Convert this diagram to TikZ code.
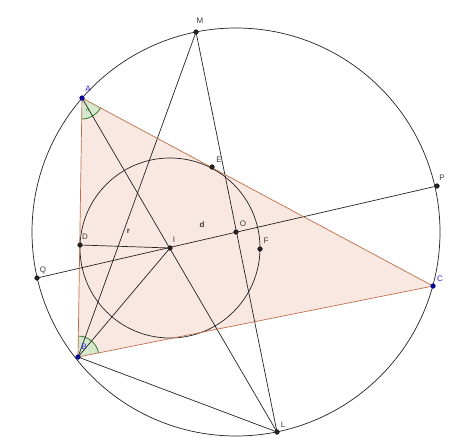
\documentclass[tikz,border=0pt]{standalone}
\usepackage{fontspec}
\setmainfont{Liberation Sans}
\definecolor{trifill}{RGB}{249,232,226}
\definecolor{triedge}{RGB}{190,110,72}
\definecolor{angfill}{RGB}{214,232,204}
\definecolor{angedge}{RGB}{30,110,30}
\definecolor{ptblue}{RGB}{10,10,150}
\definecolor{lblblue}{RGB}{40,40,210}
\definecolor{ptgray}{RGB}{35,35,35}
\definecolor{lblgray}{RGB}{60,60,60}
\begin{document}
\begin{tikzpicture}[x=1pt,y=-1pt,
  ln/.style={draw=ptgray,line width=0.7pt},
  gpt/.style={circle,fill=ptgray,inner sep=0pt,minimum size=5pt},
  bpt/.style={circle,fill=ptblue,inner sep=0pt,minimum size=5pt},
  glbl/.style={text=lblgray,font=\fontsize{8}{9}\selectfont,inner sep=0pt},
  blbl/.style={text=lblblue,font=\fontsize{8}{9}\selectfont,inner sep=0pt},
  albl/.style={text=angedge,font=\fontsize{6}{7}\selectfont,inner sep=0pt}]
\useasboundingbox (0,0) rectangle (474,445);
% points
\coordinate (Oc) at (236,232);
\coordinate (Ic) at (170,248);
\coordinate (Ac) at (82,98);
\coordinate (Bc) at (78,357);
\coordinate (Cc) at (433,286);
% triangle fill
\fill[trifill] (Ac) -- (Bc) -- (Cc) -- cycle;
% angle marks
\fill[angfill] (Ac) -- ++(28.2:21) arc[start angle=28.2,end angle=90.9,radius=21] -- cycle;
\draw[angedge,line width=0.7pt] (Ac) ++(28.2:21) arc[start angle=28.2,end angle=90.9,radius=21];
\fill[angfill] (Bc) -- ++(-89.1:21) arc[start angle=-89.1,end angle=-11.3,radius=21] -- cycle;
\draw[angedge,line width=0.7pt] (Bc) ++(-89.1:21) arc[start angle=-89.1,end angle=-11.3,radius=21];
% circles
\draw[ln] (Oc) circle[radius=204];
\draw[ln] (Ic) circle[radius=90];
% named nodes
\node[bpt] (A) at (Ac) {};
\node[bpt] (B) at (Bc) {};
\node[bpt] (C) at (Cc) {};
\node[gpt] (O) at (Oc) {};
\node[gpt] (I) at (Ic) {};
\node[gpt] (M) at (196,32) {};
\node[gpt] (L) at (277,432) {};
\node[gpt] (P) at (437,186) {};
\node[gpt] (Q) at (37,278) {};
\node[gpt] (D) at (80,245) {};
\node[gpt] (E) at (212,167) {};
\node[gpt] (F) at (260,249) {};
% lines
\draw[ln] (A.center) -- (L.center);
\draw[ln] (M.center) -- (L.center);
\draw[ln] (B.center) -- (M.center);
\draw[ln] (B.center) -- (I.center);
\draw[ln] (B.center) -- (L.center);
\draw[ln] (Q.center) -- (P.center);
\draw[ln] (D.center) -- (I.center);
% triangle edge
\draw[triedge,line width=0.7pt] (Ac) -- (Bc) -- (Cc) -- cycle;
% redraw points on top
\node[bpt] at (Ac) {};
\node[bpt] at (Bc) {};
\node[bpt] at (Cc) {};
\foreach \p in {O,I,M,L,P,Q,D,E,F} \node[gpt] at (\p) {};
% labels
\node[blbl] (lA) at (88,89) {A};
\node[blbl] (lB) at (84,347) {B};
\node[blbl] (lC) at (440,279) {C};
\node[albl] (la) at (88,110) {$\alpha$};
\node[glbl] (lM) at (200,21) {M};
\node[glbl] (lE) at (219,160) {E};
\node[glbl] (lO) at (243,224) {O};
\node[glbl] (lF) at (266,241) {F};
\node[glbl] (lD) at (85,237) {D};
\node[glbl] (lI) at (174,240) {I};
\node[glbl] (lr) at (128.5,231) {\textbf{r}};
\node[glbl] (ld) at (202,225) {\textbf{d}};
\node[glbl] (lQ) at (43,270) {Q};
\node[glbl] (lP) at (442,178) {P};
\node[glbl] (lL) at (283,425) {L};
\end{tikzpicture}
\end{document}
